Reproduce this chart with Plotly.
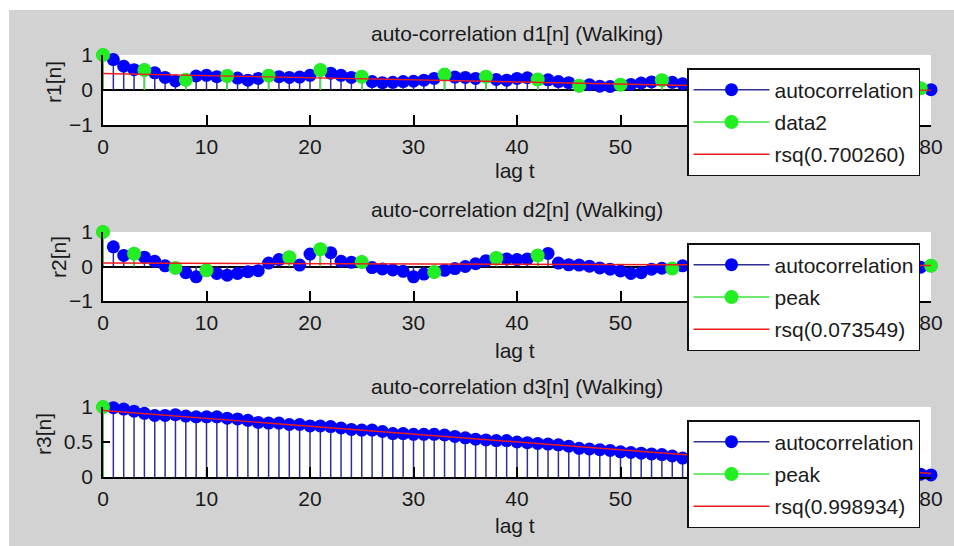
import plotly.graph_objects as go

W, H = 954, 546
FONT = "Liberation Sans, Arial, sans-serif"

# ---------------- data ----------------
lags = list(range(81))
x_ticks = [0, 10, 20, 30, 40, 50, 60, 70, 80]
x_ticktext = ["0", "10", "20", "30", "40", "50", "", "", "80"]  # 60/70 sit under the legend
y_ticks_12 = [-1, 0, 1]
y_ticks_3 = [0, 0.5, 1]

r1 = [1.00, 0.87, 0.68, 0.58, 0.57, 0.49, 0.36, 0.26, 0.29, 0.40,
      0.42, 0.38, 0.40, 0.34, 0.28, 0.33, 0.41, 0.38, 0.36, 0.37,
      0.42, 0.57, 0.48, 0.42, 0.36, 0.38, 0.24, 0.21, 0.22, 0.24,
      0.25, 0.28, 0.33, 0.44, 0.37, 0.36, 0.33, 0.38, 0.30, 0.28,
      0.33, 0.35, 0.30, 0.29, 0.24, 0.21, 0.12, 0.15, 0.11, 0.10,
      0.15, 0.16, 0.20, 0.23, 0.28, 0.22, 0.18, 0.15, 0.20, 0.14,
      0.10, 0.12, 0.16, 0.12, 0.08, 0.06, 0.09, 0.12, 0.08, 0.05,
      0.04, 0.08, 0.05, 0.03, 0.02, 0.06, 0.03, 0.01, 0.03, 0.05,
      0.01]
r2 = [1.00, 0.57, 0.32, 0.37, 0.27, 0.15, 0.02, -0.04, -0.18, -0.30,
      -0.11, -0.20, -0.25, -0.20, -0.15, -0.12, 0.10, 0.20, 0.27, 0.04,
      0.36, 0.50, 0.40, 0.15, 0.12, 0.13, -0.03, -0.07, -0.10, -0.14,
      -0.30, -0.22, -0.16, -0.11, -0.06, 0.00, 0.08, 0.17, 0.25, 0.22,
      0.20, 0.22, 0.32, 0.38, 0.10, 0.05, 0.04, 0.01, -0.04, -0.08,
      -0.13, -0.20, -0.18, -0.08, -0.05, -0.06, 0.02, 0.05, 0.10, 0.12,
      0.08, 0.02, -0.05, -0.10, -0.08, -0.02, 0.04, 0.09, 0.12, 0.06,
      0.00, -0.06, -0.09, -0.05, 0.01, 0.06, 0.08, 0.04, 0.00, -0.02,
      0.02]
r3 = [1.00, 0.99, 0.97, 0.94, 0.91, 0.88, 0.88, 0.89, 0.87, 0.86,
      0.86, 0.86, 0.84, 0.83, 0.81, 0.78, 0.77, 0.77, 0.75, 0.75,
      0.73, 0.73, 0.72, 0.70, 0.68, 0.67, 0.67, 0.65, 0.62, 0.62,
      0.61, 0.61, 0.61, 0.60, 0.58, 0.56, 0.54, 0.53, 0.52, 0.52,
      0.50, 0.49, 0.48, 0.47, 0.46, 0.44, 0.41, 0.40, 0.39, 0.38,
      0.36, 0.35, 0.34, 0.33, 0.32, 0.30, 0.27, 0.26, 0.26, 0.24,
      0.22, 0.22, 0.21, 0.19, 0.18, 0.18, 0.16, 0.15, 0.15, 0.13,
      0.12, 0.12, 0.10, 0.09, 0.09, 0.07, 0.06, 0.06, 0.05, 0.04,
      0.03]

peaks1 = [0, 4, 8, 12, 16, 21, 25, 33, 37, 42, 46, 50, 54, 58, 62, 67, 71, 75, 79]
peaks2 = [0, 3, 7, 10, 18, 21, 25, 32, 38, 42, 55, 59, 67, 75, 80]
peaks3 = [0]

fit_x = [0, 80]
fit1 = [0.47, -0.01]
fit2 = [0.10, 0.03]
fit3 = [0.95, 0.05]

titles = ["auto-correlation d1[n] (Walking)",
          "auto-correlation d2[n] (Walking)",
          "auto-correlation d3[n] (Walking)"]
ylabels = ["r1[n]", "r2[n]", "r3[n]"]
xlabel = "lag t"
series_name = "autocorrelation"
peak_names = ["data2", "peak", "peak"]
rsq_names = ["rsq(0.700260)", "rsq(0.073549)", "rsq(0.998934)"]

# ---------------- styling / layout ----------------
BLUE = "#0000ff"
STEM_BLUE = "#2e2e94"
GREEN = "#22ee22"
STEM_GREEN = "#3fe63f"
RED = "#ee1c1c"
BG = "#d2d2d2"
TXT = "#1a1a1a"
CLEAR = "rgba(0,0,0,0)"


def px(x):
    return x / W


def py(y):
    return 1 - y / H


x_dom = [px(103), px(931)]
boxes = [(55, 125), (232, 301), (407, 477)]
y_ranges = [[-1, 1], [-1, 1], [0, 1]]
y_tickvals = [y_ticks_12, y_ticks_12, y_ticks_3]
title_y = [33, 210, 386]
xlabel_y = [170, 350, 525]
ylabel_pos = [(53, 82), (58, 257), (43, 434)]
legend_top = [68, 243, 420]


def stems(xs, ys, color):
    # each stem: top point (with marker), base point (hidden marker), gap
    sx, sy, sc = [], [], []
    for a, b in zip(xs, ys):
        sx += [a, a, None]
        sy += [b, 0, None]
        sc += [color, CLEAR, CLEAR]
    return sx, sy, sc


fig = go.Figure()
series = [r1, r2, r3]
peaks = [peaks1, peaks2, peaks3]
fits = [fit1, fit2, fit3]

for i in range(3):
    k = "" if i == 0 else str(i + 1)
    xa, ya = "x" + k, "y" + k
    leg = "legend" + k
    vals = series[i]

    sx, sy, sc = stems(lags, vals, BLUE)
    fig.add_trace(go.Scatter(
        x=sx, y=sy, xaxis=xa, yaxis=ya, mode="lines+markers",
        name=series_name, legend=leg, legendgroup="a%d" % i,
        line=dict(color=STEM_BLUE, width=1.5),
        marker=dict(color=sc, size=13, opacity=1, line=dict(width=0)),
        cliponaxis=False, hoverinfo="skip"))

    pv = [vals[p] for p in peaks[i]]
    gx, gy, gc = stems(peaks[i], pv, GREEN)
    fig.add_trace(go.Scatter(
        x=gx, y=gy, xaxis=xa, yaxis=ya, mode="lines+markers",
        name=peak_names[i], legend=leg, legendgroup="b%d" % i,
        line=dict(color=STEM_GREEN, width=1.5),
        marker=dict(color=gc, size=14, opacity=1, line=dict(width=0)),
        cliponaxis=False, hoverinfo="skip"))

    fig.add_trace(go.Scatter(
        x=fit_x, y=fits[i], xaxis=xa, yaxis=ya, mode="lines",
        name=rsq_names[i], legend=leg, legendgroup="c%d" % i,
        line=dict(color=RED, width=1.4),
        cliponaxis=False, hoverinfo="skip"))

layout = dict(
    width=W, height=H, autosize=False,
    margin=dict(l=0, r=0, t=0, b=0, pad=0, autoexpand=False),
    paper_bgcolor=BG, plot_bgcolor="white",
    font=dict(family=FONT, size=21, color=TXT),
    showlegend=True,
)

annotations = []
shapes = [
    dict(type="rect", xref="paper", yref="paper", x0=0, x1=px(9), y0=0, y1=1,
         fillcolor="white", line=dict(width=0), layer="below"),
    dict(type="rect", xref="paper", yref="paper", x0=0, x1=1, y0=py(10), y1=1,
         fillcolor="white", line=dict(width=0), layer="below"),
]

for i in range(3):
    k = "" if i == 0 else str(i + 1)
    top, bot = boxes[i]
    layout["xaxis" + k] = dict(
        domain=x_dom, anchor="y" + k, range=[0, 80],
        tickvals=x_ticks, ticktext=x_ticktext, ticks="inside", ticklen=10,
        tickwidth=1.5, tickcolor="black", showline=True, linecolor="black",
        linewidth=1.5, showgrid=False, zeroline=False, automargin=False,
        tickfont=dict(size=21, color=TXT), ticklabelstandoff=2, fixedrange=True)
    layout["yaxis" + k] = dict(
        domain=[py(bot), py(top)], anchor="x" + k, range=y_ranges[i],
        tickvals=y_tickvals[i], ticks="inside", ticklen=7, tickwidth=1.5,
        tickcolor="black", showline=True, linecolor="black", linewidth=1.5,
        showgrid=False, zeroline=True, zerolinecolor="black", zerolinewidth=1.5,
        automargin=False,
        tickfont=dict(size=21, color=TXT), ticklabelstandoff=4, fixedrange=True)
    layout["legend" + k] = dict(
        x=px(687), y=py(legend_top[i]), xanchor="left", yanchor="top",
        bgcolor="white", bordercolor="#111", borderwidth=1.5,
        font=dict(size=21, color=TXT, family=FONT),
        traceorder="grouped", tracegroupgap=2, itemwidth=76,
        itemclick=False, itemdoubleclick=False)
    annotations.append(dict(
        text=titles[i], xref="paper", yref="paper", x=px(517), y=py(title_y[i]),
        xanchor="center", yanchor="middle", showarrow=False,
        font=dict(size=21, color=TXT)))
    annotations.append(dict(
        text=xlabel, xref="paper", yref="paper", x=px(515), y=py(xlabel_y[i]),
        xanchor="center", yanchor="middle", showarrow=False,
        font=dict(size=21, color=TXT)))
    lx, ly = ylabel_pos[i]
    annotations.append(dict(
        text=ylabels[i], xref="paper", yref="paper", x=px(lx), y=py(ly),
        xanchor="center", yanchor="middle", showarrow=False, textangle=-90,
        font=dict(size=21, color=TXT)))

layout["annotations"] = annotations
layout["shapes"] = shapes
fig.update_layout(**layout)

fig.write_html(
    "out.html",
    config={"displayModeBar": False, "responsive": False},
    post_script="document.body.style.margin='0px';"
                "document.body.style.overflow='hidden';")
